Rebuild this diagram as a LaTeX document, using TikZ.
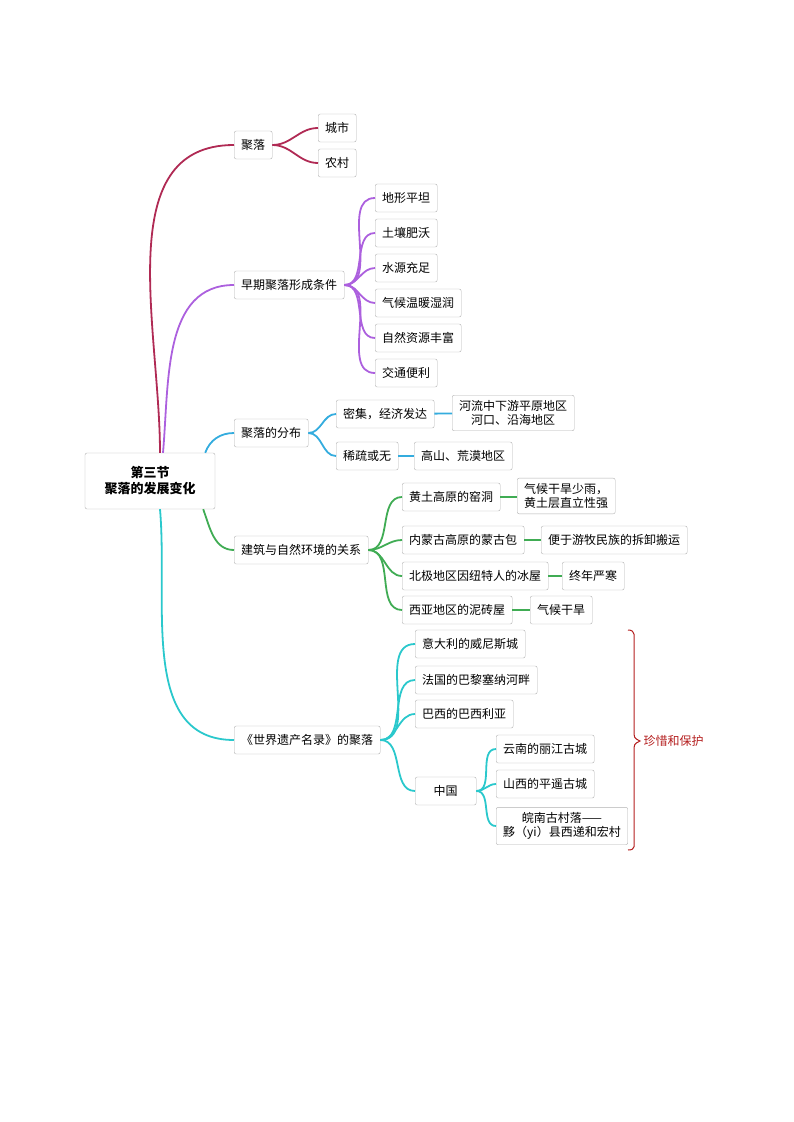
\documentclass[tikz,border=0pt]{standalone}
\usepackage{fontspec}
\setmainfont{Noto Sans CJK SC}
\begin{document}
\begin{tikzpicture}[x=1pt,y=-1pt,
    box/.style={draw=gray!60,rounded corners=2pt,fill=white,inner xsep=7pt,inner ysep=5pt,
        minimum height=28pt,font=\fontsize{12}{14.5}\selectfont,align=center},
    link/.style={line width=1.8pt},
    out0/.style={out=0,in=180}]
    % Define colors
    \definecolor{julu}{RGB}{176,42,84}
    \definecolor{zaoqi}{RGB}{172,96,222}
    \definecolor{fenbu}{RGB}{52,172,222}
    \definecolor{jianzhu}{RGB}{64,172,84}
    \definecolor{yichan}{RGB}{42,200,204}
    \definecolor{baohu}{RGB}{180,30,30}
    \useasboundingbox (0,0) rectangle (794,1122);

    % Root
    \node[box,minimum width=130pt,minimum height=56pt,font=\fontsize{13}{16}\selectfont\bfseries] (root) at (150,481) {第三节\\聚落的发展变化};

    % Level 1
    \node[box,anchor=west] (julu) at (234,145) {聚落};
    \node[box,anchor=west] (zaoqi) at (234,285) {早期聚落形成条件};
    \node[box,anchor=west] (fenbu) at (234,433) {聚落的分布};
    \node[box,anchor=west] (jianzhu) at (234,550) {建筑与自然环境的关系};
    \node[box,anchor=west] (yichan) at (234,740) {《世界遗产名录》的聚落};

    % Level 2 and 3
    \node[box,anchor=west] (chengshi) at (318,128) {城市};
    \node[box,anchor=west] (nongcun) at (318,163) {农村};
    \foreach \t [count=\i] in {地形平坦,土壤肥沃,水源充足,气候温暖湿润,自然资源丰富,交通便利}
        \node[box,anchor=west] (zq\i) at (375,163+35*\i) {\t};
    \node[box,anchor=west] (miji) at (336,414) {密集，经济发达};
    \node[box,anchor=west] (heliu) at (452,413) {河流中下游平原地区\\河口、沿海地区};
    \node[box,anchor=west] (xishu) at (336,456) {稀疏或无};
    \node[box,anchor=west] (gaoshan) at (414,456) {高山、荒漠地区};
    \node[box,anchor=west] (yaodong) at (402,497) {黄土高原的窑洞};
    \node[box,anchor=west] (ganhan) at (517,496) {气候干旱少雨，\\黄土层直立性强};
    \node[box,anchor=west] (mengu) at (402,540) {内蒙古高原的蒙古包};
    \node[box,anchor=west] (youmu) at (541,540) {便于游牧民族的拆卸搬运};
    \node[box,anchor=west] (binwu) at (402,576) {北极地区因纽特人的冰屋};
    \node[box,anchor=west] (yanhan) at (562,576) {终年严寒};
    \node[box,anchor=west] (nizhuan) at (402,610) {西亚地区的泥砖屋};
    \node[box,anchor=west] (qihou) at (530,610) {气候干旱};
    \node[box,anchor=west] (weinisi) at (415,644) {意大利的威尼斯城};
    \node[box,anchor=west] (bali) at (415,680) {法国的巴黎塞纳河畔};
    \node[box,anchor=west] (baxi) at (415,714) {巴西的巴西利亚};
    \node[box,anchor=west,minimum width=61pt] (zhongguo) at (415,791) {中国};
    \node[box,anchor=west] (lijiang) at (496,749) {云南的丽江古城};
    \node[box,anchor=west] (pingyao) at (496,784) {山西的平遥古城};
    \node[box,anchor=west] (wannan) at (496,826) {皖南古村落——\\黟（yi）县西递和宏村};

    % Connectors from root
    \draw[link,julu] (root.north) ++(10,0) coordinate (r1) to[out=90,in=180] (julu.west);
    \draw[link,zaoqi] (r1) ++(3,0) to[out=85,in=180] (zaoqi.west);
    \draw[link,fenbu] (root.north east) ++(-10,0) to[out=70,in=180] (fenbu.west);
    \draw[link,jianzhu] (root.south east) ++(-12,0) to[out=-70,in=180] (jianzhu.west);
    \draw[link,yichan] (root.south) ++(10,0) to[out=-85,in=180] (yichan.west);

    % Connectors within branches
    \foreach \c in {chengshi,nongcun}
        \draw[link,julu] (julu.east) to[out0] (\c.west);
    \foreach \i in {1,...,6}
        \draw[link,zaoqi] (zaoqi.east) to[out0] (zq\i.west);
    \draw[link,fenbu] (fenbu.east) to[out0] (miji.west);
    \draw[link,fenbu] (fenbu.east) to[out0] (xishu.west);
    \draw[link,fenbu] (miji) -- (heliu);
    \draw[link,fenbu] (xishu) -- (gaoshan);
    \foreach \c/\d in {yaodong/ganhan,mengu/youmu,binwu/yanhan,nizhuan/qihou} {
        \draw[link,jianzhu] (jianzhu.east) to[out0] (\c.west);
        \draw[link,jianzhu] (\c.east) -- (\c.east -| \d.west);
    }
    \foreach \c in {weinisi,bali,baxi,zhongguo}
        \draw[link,yichan] (yichan.east) to[out0] (\c.west);
    \foreach \c in {lijiang,pingyao,wannan}
        \draw[link,yichan] (zhongguo.east) to[out0] (\c.west);

    % Brace
    \draw[baohu,line width=1pt] (628,630) .. controls (636,630) and (634,636) .. (634,645)
        -- (634,730) .. controls (634,738) .. (640,741) .. controls (634,744) .. (634,752)
        -- (634,836) .. controls (634,846) and (636,850) .. (628,850);
    \node[anchor=west,text=baohu,font=\fontsize{12}{14.5}\selectfont] (zhenxi) at (640,741) {珍惜和保护};
\end{tikzpicture}
\end{document}
